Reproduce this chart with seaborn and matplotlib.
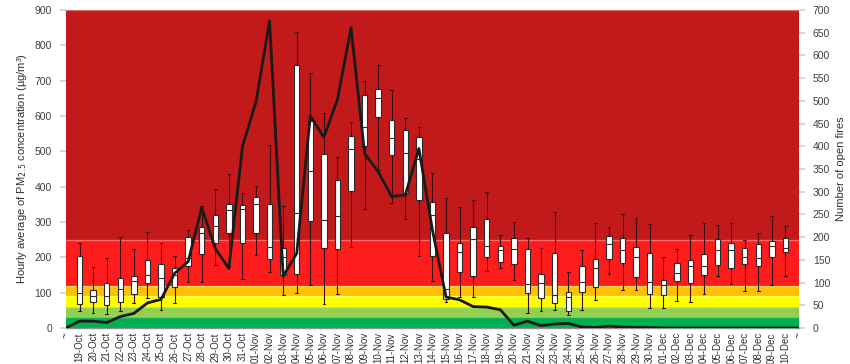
import numpy as np
import pandas as pd
import seaborn as sns
import matplotlib.pyplot as plt

# daily PM2.5 summaries (whisker low, q1, median, q3, whisker high)
dates = ["19-Oct", "20-Oct", "21-Oct", "22-Oct", "23-Oct", "24-Oct", "25-Oct", "26-Oct",
         "27-Oct", "28-Oct", "29-Oct", "30-Oct", "31-Oct",
         "01-Nov", "02-Nov", "03-Nov", "04-Nov", "05-Nov", "06-Nov", "07-Nov", "08-Nov",
         "09-Nov", "10-Nov", "11-Nov", "12-Nov", "13-Nov", "14-Nov", "15-Nov", "16-Nov",
         "17-Nov", "18-Nov", "19-Nov", "20-Nov", "21-Nov", "22-Nov", "23-Nov", "24-Nov",
         "25-Nov", "26-Nov", "27-Nov", "28-Nov", "29-Nov", "30-Nov",
         "01-Dec", "02-Dec", "03-Dec", "04-Dec", "05-Dec", "06-Dec", "07-Dec", "08-Dec",
         "09-Dec", "10-Dec"]
low = [49, 42, 39, 47, 70, 84, 52, 70, 131, 131, 178, 175, 140,
       207, 159, 93, 100, 122, 68, 95, 230, 338, 447, 355, 309, 205, 134, 73, 89,
       89, 160, 169, 136, 42, 49, 51, 36, 51, 80, 153, 108, 108, 57,
       57, 77, 74, 95, 147, 125, 106, 106, 122, 146]
q1 = [67, 74, 64, 74, 96, 128, 88, 117, 176, 209, 240, 268, 241,
      270, 194, 150, 152, 304, 226, 223, 389, 516, 597, 489, 381, 362, 205, 82, 158,
      148, 202, 186, 181, 98, 86, 72, 49, 103, 117, 194, 184, 144, 97,
      93, 132, 127, 149, 178, 170, 180, 174, 201, 215]
med = [100, 91, 91, 110, 134, 150, 142, 150, 197, 270, 289, 334, 336,
       351, 230, 202, 325, 445, 306, 318, 507, 570, 652, 539, 496, 477, 321, 111, 216,
       251, 233, 221, 224, 124, 128, 93, 88, 131, 171, 237, 221, 202, 131,
       122, 155, 176, 175, 221, 221, 202, 197, 233, 227]
q3 = [204, 107, 128, 141, 148, 193, 182, 170, 258, 287, 320, 351, 348,
      370, 351, 226, 744, 587, 492, 419, 543, 660, 676, 589, 560, 541, 357, 270, 241,
      286, 309, 232, 256, 224, 153, 212, 102, 175, 196, 260, 256, 228, 213,
      137, 183, 193, 210, 251, 241, 226, 237, 246, 256]
high = [240, 172, 199, 257, 224, 272, 240, 204, 277, 346, 393, 437, 381,
        403, 518, 345, 839, 721, 608, 485, 584, 698, 745, 673, 595, 569, 438, 368, 341,
        361, 386, 263, 301, 254, 226, 329, 157, 222, 296, 286, 324, 311, 294,
        202, 224, 262, 296, 292, 296, 248, 270, 316, 289]

# open fires, including the "~" end points
fires = [0, 15, 15, 12, 25, 32, 55, 63, 120, 146, 265, 175, 131, 399,
         498, 676, 114, 164, 467, 420, 503, 661, 384, 344, 289, 293, 395, 215, 68, 62,
         47, 46, 40, 6, 15, 5, 9, 10, 2, 1, 4, 2, 1, 1,
         0, 0, 0, 0, 0, 0, 0, 0, 0, 0, 0]

labels = ["~"] + dates + ["~"]

# air quality bands (lower, upper, colour)
band_edges = [0, 30, 60, 90, 120, 250, 900]
band_colors = ["#00B050", "#92D050", "#FFFF00", "#FFC000", "#FF1C1C", "#C2191B"]

rows = []
for i, d in enumerate(dates):
    for v in (low[i], q1[i], med[i], q3[i], high[i]):
        rows.append({"pos": i + 1, "pm25": v})
df = pd.DataFrame(rows)

sns.set_theme(style="white")
plt.rcParams['font.family'] = ['Liberation Sans', 'DejaVu Sans']

fig = plt.figure(figsize=(8.5, 3.64), dpi=100)
ax = fig.add_axes([0.0776, 0.099, 0.8624, 0.8735])

for k in range(len(band_colors)):
    ax.axhspan(band_edges[k], band_edges[k + 1], color=band_colors[k], lw=0, zorder=0)
for e in band_edges[1:]:
    ax.axhline(e, color="white", alpha=0.35, lw=1, zorder=0.5)

sns.boxplot(data=df, x="pos", y="pm25", native_scale=True, whis=(0, 100), width=0.4,
            color="white", linecolor="#2b2b2b", linewidth=0.8, saturation=1,
            showfliers=False, ax=ax,
            whiskerprops={"color": "#3a0d0d"}, capprops={"color": "#3a0d0d"},
            medianprops={"color": "#2b2b2b", "zorder": 4})

ax.set_xlim(0, len(labels) - 1)
ax.set_ylim(0, 900)
ax.set_yticks(range(0, 901, 100))
ax.set_xticks(range(len(labels)))
ax.set_xticklabels(labels, rotation=90, fontsize=7, color="#303030")
ax.set_xlabel("")
ax.set_ylabel("Hourly average of PM$_{2.5}$ concentration (µg/m³)", fontsize=8, color="#303030")
ax.tick_params(axis="y", labelsize=7.5, colors="#404040", length=4, color="#d0d0d0", direction="out", pad=6)
ax.tick_params(axis="x", length=0, pad=3)
for s in ax.spines.values():
    s.set_visible(False)

ax2 = ax.twinx()
sns.lineplot(x=list(range(len(fires))), y=fires, color="#1a1a1a", lw=2.0, ax=ax2, zorder=5)
ax2.set_ylim(0, 700)
ax2.set_yticks(range(0, 701, 50))
ax2.set_ylabel("Number of open fires", fontsize=8, color="#303030")
ax2.tick_params(axis="y", labelsize=7.5, colors="#404040", length=4, color="#d0d0d0", direction="out", pad=6)
for s in ax2.spines.values():
    s.set_visible(False)
ax2.axhline(0, color="#909090", lw=1, clip_on=False)

fig.savefig("out.png", dpi=100)
